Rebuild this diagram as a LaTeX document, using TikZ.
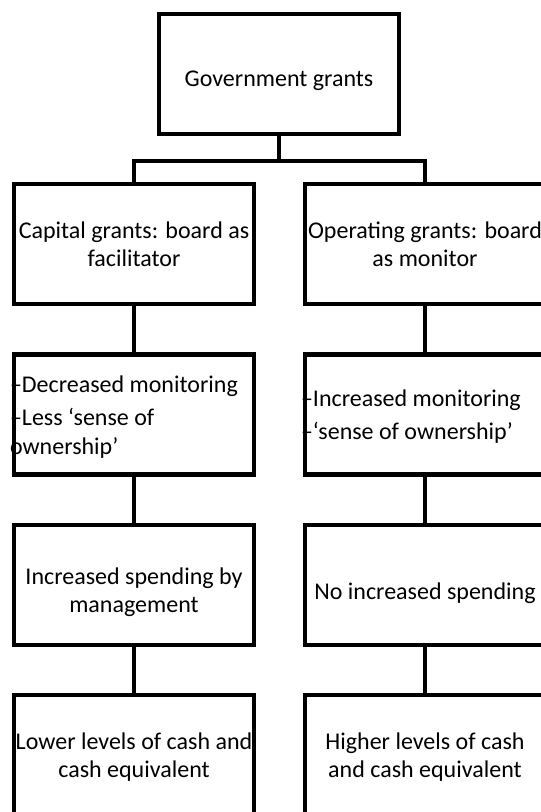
\documentclass[tikz,border=0pt]{standalone}
\usepackage{fontspec}
\setmainfont{Carlito}
\usepackage{tikz}
\usetikzlibrary{positioning}

% taller first line, pushes a box's text a little down
\newcommand\topstrut[1]{\rule{0pt}{#1}}

\begin{document}
\begin{tikzpicture}[x=1pt, y=-1pt,
    box/.style={draw, line width=4.3pt, minimum width=240pt, minimum height=120pt,
        inner sep=0pt, align=center, font=\fontsize{24}{28.5}\selectfont},
    listbox/.style={box, text width=248pt, inner xsep=-4pt, align=flush left},
    link/.style={line width=4.3pt}]
    \clip (0,0) rectangle (541,812);

    % root
    \node[box] (grants) at (279,74) {\topstrut{29pt}Government grants};

    % left branch
    \node[box] (capital) at (134,244) {Capital grants: board as\\facilitator};
    \node[listbox] (capwatch) at (134,414.5) {\topstrut{21pt}\textendash Decreased monitoring\\[5pt]\textendash Less ‘sense of\\ownership’};
    \node[box] (capspend) at (134,585) {\topstrut{31pt}Increased spending by\\management};
    \node[box] (capcash) at (134,755) {\topstrut{21pt}Lower levels of cash and\\cash equivalent};

    % right branch
    \node[box] (operating) at (425,244) {Operating grants: board\\as monitor};
    \node[listbox] (opwatch) at (425,414.5) {\topstrut{21pt}\textendash Increased monitoring\\[5pt]\textendash‘sense of ownership’};
    \node[box] (opspend) at (425,585) {\topstrut{33pt}No increased spending};
    \node[box] (opcash) at (425,755) {\topstrut{21pt}Higher levels of cash\\and cash equivalent};

    \draw[link] (grants.south) -- ++(0,24.5) -| (capital.north);
    \draw[link] (grants.south) -- ++(0,24.5) -| (operating.north);

    \draw[link] (capital) -- (capwatch);
    \draw[link] (capwatch) -- (capspend);
    \draw[link] (capspend) -- (capcash);
    \draw[link] (operating) -- (opwatch);
    \draw[link] (opwatch) -- (opspend);
    \draw[link] (opspend) -- (opcash);
\end{tikzpicture}
\end{document}
